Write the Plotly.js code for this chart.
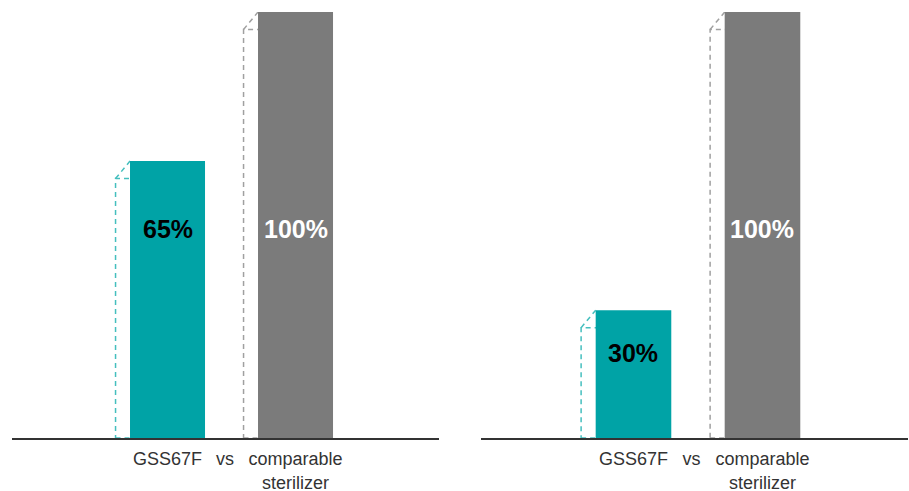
<!DOCTYPE html>
<html>
<head>
<meta charset="utf-8">
<script src="https://cdn.plot.ly/plotly-3.0.1.min.js"></script>
<style>html,body{margin:0;padding:0;background:#fff}#chart{width:909px;height:491px}</style>
</head>
<body>
<div id="chart"></div>
<script>
// ---- data ----
const categories = ["GSS67F", "comparable<br>sterilizer"];
const separatorLabel = "vs";
const panel1Values = [65, 100];
const panel2Values = [30, 100];
const valueLabels1 = ["65%", "100%"];
const valueLabels2 = ["30%", "100%"];

// ---- styling ----
const teal = "#00A3A6";
const gray = "#7B7B7B";
const tealDash = "#45BFBE";
const grayDash = "#A0A0A0";
const barColors = [teal, gray];
const dashColors = [tealDash, grayDash];
const labelColors = ["#000000", "#FFFFFF"];
const barWidth = 0.586;
const dxShadow = 0.113;   // shadow offset (x units)
const dyShadow = 4.1;     // shadow offset (y units)
const xpos = [0, 1];
const vsPos = 0.45;

const traces = [
  {type: "bar", x: xpos, y: panel1Values, width: barWidth, xaxis: "x", yaxis: "y",
   marker: {color: barColors}, hoverinfo: "skip"},
  {type: "bar", x: xpos, y: panel2Values, width: barWidth, xaxis: "x2", yaxis: "y2",
   marker: {color: barColors}, hoverinfo: "skip"}
];

function shadowShapes(values, xr, yr) {
  const out = [];
  values.forEach((v, i) => {
    const left = xpos[i] - barWidth / 2;
    const line = {color: dashColors[i], width: 1.5, dash: "5px,4px"};
    out.push({type: "rect", xref: xr, yref: yr, layer: "below",
      x0: left - dxShadow, x1: left + barWidth - dxShadow,
      y0: 0, y1: v - dyShadow, line: line, fillcolor: "rgba(0,0,0,0)"});
    out.push({type: "line", xref: xr, yref: yr, layer: "below",
      x0: left - dxShadow, y0: v - dyShadow, x1: left, y1: v, line: line});
  });
  return out;
}

function labelAnns(labels, xr, yr, ys) {
  return labels.map((t, i) => ({
    text: "<b>" + t + "</b>", x: xpos[i], y: ys[i], xref: xr, yref: yr,
    showarrow: false, font: {family: "Liberation Sans, Arial, sans-serif", size: 25, color: labelColors[i]}
  }));
}

const tickCommon = {
  tickvals: [xpos[0], vsPos, xpos[1]],
  ticktext: [categories[0], separatorLabel, categories[1]],
  tickfont: {family: "Liberation Sans, Arial, sans-serif", size: 18, color: "#333"},
  ticklabelstandoff: 4,
  ticks: "", showgrid: false, zeroline: false, showline: true,
  linecolor: "#333", linewidth: 1.6, fixedrange: true
};

const layout = {
  width: 909, height: 491,
  margin: {l: 0, r: 0, t: 12, b: 53},
  paper_bgcolor: "#fff", plot_bgcolor: "#fff",
  showlegend: false,
  xaxis: Object.assign({domain: [12/909, 439/909], range: [-1.215, 2.121], anchor: "y"}, tickCommon),
  xaxis2: Object.assign({domain: [481/909, 908/909], range: [-1.182, 2.128], anchor: "y2"}, tickCommon),
  yaxis: {range: [0, 100], visible: false, fixedrange: true, domain: [0, 1]},
  yaxis2: {range: [0, 100], visible: false, fixedrange: true, domain: [0, 1], anchor: "x2"},
  shapes: shadowShapes(panel1Values, "x", "y").concat(shadowShapes(panel2Values, "x2", "y2")),
  annotations: labelAnns(valueLabels1, "x", "y", [49, 49]).concat(labelAnns(valueLabels2, "x2", "y2", [20, 49]))
};

Plotly.newPlot("chart", traces, layout, {displayModeBar: false, staticPlot: true});
</script>
</body>
</html>
